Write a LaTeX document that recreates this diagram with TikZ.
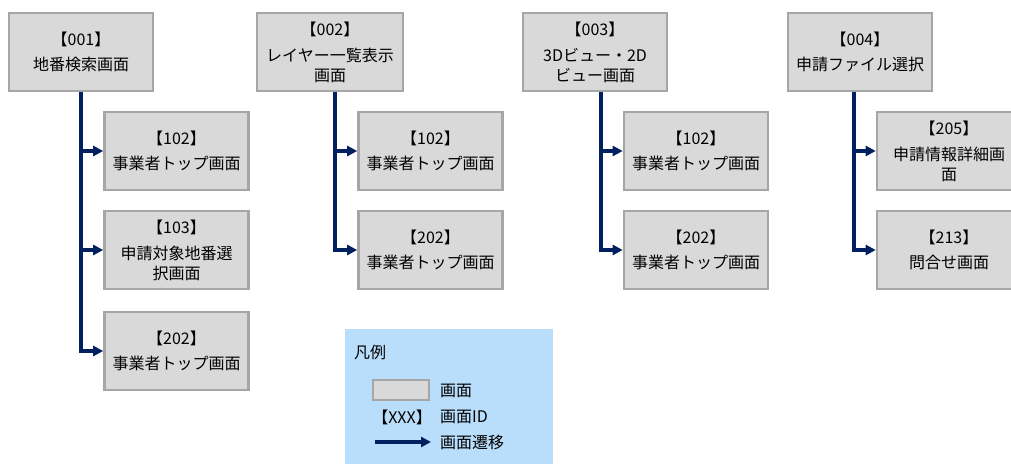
\documentclass[tikz,border=0pt]{standalone}
\usepackage{fontspec}
\setmainfont{Noto Sans CJK JP}
\usetikzlibrary{arrows.meta}
\definecolor{screenfill}{HTML}{D9D9D9}
\definecolor{screenline}{HTML}{A6A6A6}
\definecolor{flowcolor}{HTML}{002060}
\definecolor{legendfill}{HTML}{B9DEFB}
\tikzset{
  screen/.style={draw=screenline, line width=2.6pt, fill=screenfill, minimum width=144pt, minimum height=78pt, align=center, inner sep=2pt, font=\fontsize{16pt}{20pt}\selectfont},
  flow/.style={draw=flowcolor, line width=3.2pt, -{Triangle[length=10pt,width=10pt]}},
  legendtext/.style={anchor=west, inner sep=0pt, font=\fontsize{16pt}{20pt}\selectfont},
}

\begin{document}
\begin{tikzpicture}[x=1pt,y=-1pt]%
\useasboundingbox (0,0) rectangle (1011,463);%
% start screens
\node[screen] (s001) at (81, 52) {【001】\\[5pt]地番検索画面};%
\node[screen, minimum width=146pt] (s002) at (330, 52) {【002】\\[6pt]レイヤー一覧表示\\画面};%
\node[screen] (s003) at (595, 52) {【003】\\[6pt]3Dビュー・2D\\ビュー画面};%
\node[screen] (s004) at (860, 52) {【004】\\[5pt]申請ファイル選択};%
% target screens
\node[screen] (s001a) at (176.5, 151) {【102】\\[5pt]事業者トップ画面};%
\node[screen] (s001b) at (176.5, 250) {【103】\\[6pt]申請対象地番選\\択画面};%
\node[screen] (s001c) at (176.5, 351) {【202】\\[5pt]事業者トップ画面};%
\node[screen] (s002a) at (430.5, 151) {【102】\\[5pt]事業者トップ画面};%
\node[screen] (s002b) at (430.5, 250) {【202】\\[5pt]事業者トップ画面};%
\node[screen] (s003a) at (696, 151) {【102】\\[5pt]事業者トップ画面};%
\node[screen] (s003b) at (696, 250) {【202】\\[5pt]事業者トップ画面};%
\node[screen] (s004a) at (949, 151) {【205】\\[6pt]申請情報詳細画\\面};%
\node[screen] (s004b) at (949, 250) {【213】\\[5pt]問合せ画面};%
% transitions
\draw[flow] (s001.south) |- (s001a.west);%
\draw[flow] (s001.south) |- (s001b.west);%
\draw[flow] (s001.south) |- (s001c.west);%
\draw[flow] ([xshift=5pt]s002.south) |- (s002a.west);%
\draw[flow] ([xshift=5pt]s002.south) |- (s002b.west);%
\draw[flow] ([xshift=6pt]s003.south) |- (s003a.west);%
\draw[flow] ([xshift=6pt]s003.south) |- (s003b.west);%
\draw[flow] ([xshift=-6pt]s004.south) |- (s004a.west);%
\draw[flow] ([xshift=-6pt]s004.south) |- (s004b.west);%
% legend
\fill[legendfill] (345, 329) rectangle (553, 470);%
\node[legendtext] (legtitle) at (354, 352) {凡例};%
\node[screen, minimum width=56pt, minimum height=20pt, inner sep=0pt] (legbox) at (401, 390) {};%
\node[legendtext] (legscreen) at (440, 391) {画面};%
\node[legendtext, anchor=east] (legid) at (432, 417) {【XXX】};%
\node[legendtext] (legidtext) at (440, 417) {画面ID};%
\coordinate (legfrom) at (375, 442);%
\coordinate (legto) at (431, 442);%
\draw[flow] (legfrom) -- (legto);%
\node[legendtext] (legflow) at (440, 442) {画面遷移};%
\end{tikzpicture}
\end{document}
